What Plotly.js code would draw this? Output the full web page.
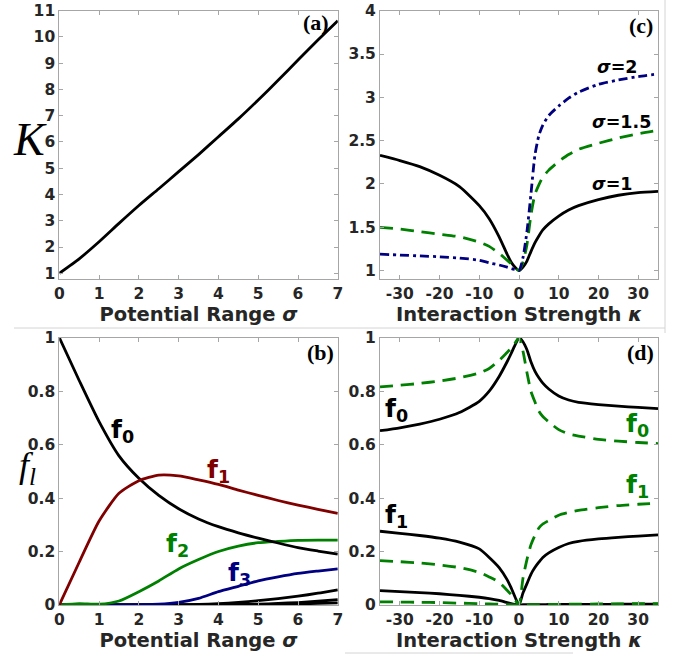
<!DOCTYPE html>
<html>
<head>
<meta charset="utf-8">
<script src="https://cdn.plot.ly/plotly-3.0.1.min.js"></script>
<style>html,body{margin:0;padding:0;background:#fff;}#chart{width:688px;height:658px;}</style>
</head>
<body>
<div id="chart"></div>
<script>
// ---------- Panel (a): K vs potential range sigma ----------
const sigmaA = [0, 0.5, 1, 1.5, 2, 2.5, 3, 3.5, 4, 4.5, 5, 5.5, 6, 6.5, 7];
const kValues = [1, 1.55, 2.2, 2.9, 3.58, 4.22, 4.87, 5.52, 6.2, 6.88, 7.6, 8.35, 9.12, 9.88, 10.62];

// ---------- Panel (b): f_l vs sigma ----------
const sigmaB = [0, 0.5, 1, 1.5, 2, 2.5, 3, 3.5, 4, 4.5, 5, 5.5, 6, 6.5, 7];
const fb0 = [1, 0.84, 0.686, 0.558, 0.474, 0.41, 0.36, 0.322, 0.293, 0.27, 0.25, 0.232, 0.215, 0.202, 0.19];
const fb1 = [0, 0.16, 0.314, 0.418, 0.465, 0.486, 0.483, 0.468, 0.451, 0.43, 0.41, 0.391, 0.374, 0.358, 0.343];
const fb2 = [0, 0.005, 0.003, 0.015, 0.05, 0.09, 0.135, 0.17, 0.2, 0.22, 0.233, 0.238, 0.242, 0.243, 0.243];
const fb3 = [0, 0, 0, 0, 0.001, 0.003, 0.01, 0.025, 0.05, 0.07, 0.09, 0.105, 0.118, 0.127, 0.135];
const fb4 = [0, 0, 0, 0, 0, 0, 0.001, 0.002, 0.005, 0.01, 0.016, 0.024, 0.033, 0.044, 0.057];
const fb5 = [0, 0, 0, 0, 0, 0, 0, 0, 0.001, 0.002, 0.003, 0.006, 0.009, 0.014, 0.02];
const fb6 = [0, 0, 0, 0, 0, 0, 0, 0, 0, 0, 0.001, 0.002, 0.004, 0.006, 0.008];

// ---------- Panel (c): K vs interaction strength kappa ----------
const kappa = [-35, -30, -25, -20, -15, -10, -7.5, -5, -3, -2, -1, 0, 1, 2, 3, 4, 5, 6, 7.5, 10, 12.5, 15, 20, 25, 30, 35];
const kSig1  = [2.33, 2.27, 2.2, 2.1, 1.97, 1.75, 1.6, 1.39, 1.19, 1.1, 1.04, 1.0, 1.04, 1.11, 1.22, 1.32, 1.4, 1.47, 1.54, 1.63, 1.7, 1.75, 1.82, 1.87, 1.9, 1.915];
const kSig15 = [1.5, 1.48, 1.45, 1.42, 1.39, 1.33, 1.28, 1.2, 1.12, 1.08, 1.04, 1.0, 1.1, 1.3, 1.64, 1.88, 1.99, 2.08, 2.16, 2.26, 2.34, 2.4, 2.47, 2.53, 2.58, 2.62];
const kSig2  = [1.19, 1.18, 1.17, 1.16, 1.145, 1.12, 1.09, 1.065, 1.04, 1.025, 1.012, 1.0, 1.15, 1.45, 1.88, 2.33, 2.56, 2.68, 2.79, 2.9, 2.99, 3.06, 3.15, 3.2, 3.24, 3.27];

// ---------- Panel (d): f_l vs kappa ----------
const fd0Solid  = [0.652, 0.663, 0.677, 0.695, 0.72, 0.762, 0.8, 0.855, 0.91, 0.94, 0.972, 1.0, 0.985, 0.955, 0.91, 0.875, 0.85, 0.83, 0.808, 0.782, 0.767, 0.758, 0.75, 0.744, 0.739, 0.735];
const fd0Dashed = [0.816, 0.822, 0.829, 0.838, 0.85, 0.868, 0.885, 0.915, 0.945, 0.96, 0.98, 1.0, 0.95, 0.87, 0.8, 0.76, 0.725, 0.705, 0.685, 0.656, 0.64, 0.632, 0.62, 0.613, 0.608, 0.604];
const fd1Solid  = [0.276, 0.268, 0.26, 0.25, 0.235, 0.21, 0.178, 0.14, 0.095, 0.065, 0.03, 0.0, 0.045, 0.08, 0.115, 0.14, 0.16, 0.178, 0.195, 0.215, 0.23, 0.238, 0.247, 0.253, 0.258, 0.262];
const fd1Dashed = [0.166, 0.162, 0.157, 0.15, 0.14, 0.122, 0.105, 0.085, 0.055, 0.04, 0.02, 0.0, 0.1, 0.17, 0.225, 0.26, 0.288, 0.303, 0.316, 0.336, 0.346, 0.354, 0.364, 0.372, 0.377, 0.381];
const fd2Solid  = [0.054, 0.05, 0.046, 0.042, 0.036, 0.029, 0.024, 0.017, 0.009, 0.005, 0.002, 0.0, 0.001, 0.001, 0.001, 0.001, 0.001, 0.001, 0.002, 0.002, 0.002, 0.002, 0.002, 0.003, 0.003, 0.003];
const fd2Dashed = [0.012, 0.011, 0.01, 0.009, 0.007, 0.005, 0.004, 0.003, 0.001, 0.001, 0.0, 0.0, 0.0, 0.001, 0.001, 0.001, 0.001, 0.001, 0.002, 0.002, 0.003, 0.003, 0.004, 0.004, 0.005, 0.005];

// ---------- Tick labels ----------
const ticksSigma = [0, 1, 2, 3, 4, 5, 6, 7];
const ticksK = [1, 2, 3, 4, 5, 6, 7, 8, 9, 10, 11];
const ticksKappa = [-30, -20, -10, 0, 10, 20, 30];
const ticksKc = [1, 1.5, 2, 2.5, 3, 3.5, 4];
const ticksF = [0, 0.2, 0.4, 0.6, 0.8, 1];

const BLACK = '#000000', RED = '#800000', GREEN = '#008000', NAVY = '#000080';
const LW = 2.8;
const DASH = '13px,8px';
const DASHDOT = '9px,4px,3px,4px';

function line(x, y, color, xa, ya, dash) {
  return {x: x, y: y, xaxis: xa, yaxis: ya, mode: 'lines', type: 'scatter',
    line: {color: color, width: LW, dash: dash || 'solid', shape: 'spline', smoothing: 0.6}, hoverinfo: 'skip'};
}

const data = [
  line(sigmaA, kValues, BLACK, 'x', 'y'),
  line(sigmaB, fb6, BLACK, 'x3', 'y3'),
  line(sigmaB, fb5, BLACK, 'x3', 'y3'),
  line(sigmaB, fb4, BLACK, 'x3', 'y3'),
  line(sigmaB, fb3, NAVY, 'x3', 'y3'),
  line(sigmaB, fb2, GREEN, 'x3', 'y3'),
  line(sigmaB, fb0, BLACK, 'x3', 'y3'),
  line(sigmaB, fb1, RED, 'x3', 'y3'),
  line(kappa, kSig1, BLACK, 'x2', 'y2'),
  line(kappa, kSig15, GREEN, 'x2', 'y2', DASH),
  line(kappa, kSig2, NAVY, 'x2', 'y2', DASHDOT),
  line(kappa, fd0Solid, BLACK, 'x4', 'y4'),
  line(kappa, fd1Solid, BLACK, 'x4', 'y4'),
  line(kappa, fd2Solid, BLACK, 'x4', 'y4'),
  line(kappa, fd0Dashed, GREEN, 'x4', 'y4', DASH),
  line(kappa, fd1Dashed, GREEN, 'x4', 'y4', DASH),
  line(kappa, fd2Dashed, GREEN, 'x4', 'y4', DASH)
];

const W = 688, H = 658;
const tickFont = {family: 'DejaVu Sans', size: 15.5, color: '#262626', weight: 'bold'};
const titleFont = {family: 'DejaVu Sans', size: 19.5, color: '#262626', weight: 'bold'};

function axis(domain, range, tickvals, anchor, extra) {
  return Object.assign({
    domain: domain, range: range, tickvals: tickvals, ticktext: tickvals.map(String),
    anchor: anchor, showgrid: false, zeroline: false, showline: true, mirror: 'ticks',
    linecolor: '#a6a6a6', linewidth: 1, ticks: 'inside', ticklen: 4, tickcolor: '#a6a6a6',
    tickfont: tickFont, fixedrange: true, automargin: false
  }, extra || {});
}

const xL = [59.3 / W, 337.8 / W], xR = [380 / W, 658 / W];
const yT = [1 - 279.3 / H, 1 - 10.7 / H], yB = [1 - 605 / H, 1 - 337.7 / H];

const layout = {
  width: W, height: H, margin: {l: 0, r: 0, t: 0, b: 0},
  paper_bgcolor: '#ffffff', plot_bgcolor: '#ffffff', showlegend: false,
  xaxis: axis(xL, [0, 7], ticksSigma, 'y', {title: {text: 'Potential Range <i>σ</i>', font: titleFont, standoff: 4}}),
  yaxis: axis(yT, [0.77, 11], ticksK, 'x'),
  xaxis2: axis(xR, [-35, 35], ticksKappa, 'y2', {title: {text: 'Interaction Strength <i>κ</i>', font: titleFont, standoff: 4}}),
  yaxis2: axis(yT, [0.9, 4], ticksKc, 'x2'),
  xaxis3: axis(xL, [0, 7], ticksSigma, 'y3', {title: {text: 'Potential Range <i>σ</i>', font: titleFont, standoff: 4}}),
  yaxis3: axis(yB, [0, 1], ticksF, 'x3'),
  xaxis4: axis(xR, [-35, 35], ticksKappa, 'y4', {title: {text: 'Interaction Strength <i>κ</i>', font: titleFont, standoff: 4}}),
  yaxis4: axis(yB, [0, 1], ticksF, 'x4'),
  shapes: [
    {type: 'line', xref: 'paper', yref: 'paper', x0: 14 / W, x1: 665 / W, y0: 1 - 328 / H, y1: 1 - 328 / H, line: {color: '#d4d4d4', width: 1}},
    {type: 'line', xref: 'paper', yref: 'paper', x0: 665 / W, x1: 665 / W, y0: 1, y1: 1 - 333 / H, line: {color: '#d4d4d4', width: 1}},
    {type: 'line', xref: 'paper', yref: 'paper', x0: 345 / W, x1: 573 / W, y0: 1 - 653 / H, y1: 1 - 653 / H, line: {color: '#d4d4d4', width: 1}}
  ],
  annotations: []
};

const serifLabel = {family: 'Liberation Serif', size: 22, color: '#000000', weight: 'bold'};
const lab = {family: 'DejaVu Sans', size: 25, weight: 'bold'};
function ann(text, xref, yref, x, y, font) {
  return {text: text, xref: xref, yref: yref, x: x, y: y, xanchor: 'center', yanchor: 'middle', showarrow: false, font: font};
}
layout.annotations.push(
  ann('(a)', 'x', 'y', 6.44, 10.55, serifLabel),
  ann('(c)', 'x2', 'y2', 30.6, 3.83, serifLabel),
  ann('(b)', 'x3', 'y3', 6.57, 0.943, serifLabel),
  ann('(d)', 'x4', 'y4', 30.6, 0.943, serifLabel),
  ann('<i>K</i>', 'paper', 'paper', 30 / W, 1 - 140 / H, {family: 'Liberation Serif', size: 46, color: '#000000'}),
  ann('<i>f<sub>l</sub></i>', 'paper', 'paper', 27 / W, 1 - 467 / H, {family: 'Liberation Serif', size: 36, color: '#000000'}),
  ann('<i>σ</i>=2', 'x2', 'y2', 24.6, 3.35, {family: 'DejaVu Sans', size: 17.5, weight: 'bold', color: BLACK}),
  ann('<i>σ</i>=1.5', 'x2', 'y2', 25.9, 2.72, {family: 'DejaVu Sans', size: 17.5, weight: 'bold', color: BLACK}),
  ann('<i>σ</i>=1', 'x2', 'y2', 23.3, 2.0, {family: 'DejaVu Sans', size: 17.5, weight: 'bold', color: BLACK}),
  ann('f<sub>0</sub>', 'x3', 'y3', 1.58, 0.651, Object.assign({color: BLACK}, lab)),
  ann('f<sub>1</sub>', 'x3', 'y3', 4.0, 0.501, Object.assign({color: RED}, lab)),
  ann('f<sub>2</sub>', 'x3', 'y3', 2.96, 0.224, Object.assign({color: GREEN}, lab)),
  ann('f<sub>3</sub>', 'x3', 'y3', 4.53, 0.116, Object.assign({color: NAVY}, lab)),
  ann('f<sub>0</sub>', 'x4', 'y4', -30.8, 0.729, Object.assign({color: BLACK}, lab)),
  ann('f<sub>1</sub>', 'x4', 'y4', -30.8, 0.332, Object.assign({color: BLACK}, lab)),
  ann('f<sub>0</sub>', 'x4', 'y4', 29.8, 0.673, Object.assign({color: GREEN}, lab)),
  ann('f<sub>1</sub>', 'x4', 'y4', 29.8, 0.444, Object.assign({color: GREEN}, lab))
);

Plotly.newPlot('chart', data, layout, {staticPlot: true, displayModeBar: false});
</script>
</body>
</html>
